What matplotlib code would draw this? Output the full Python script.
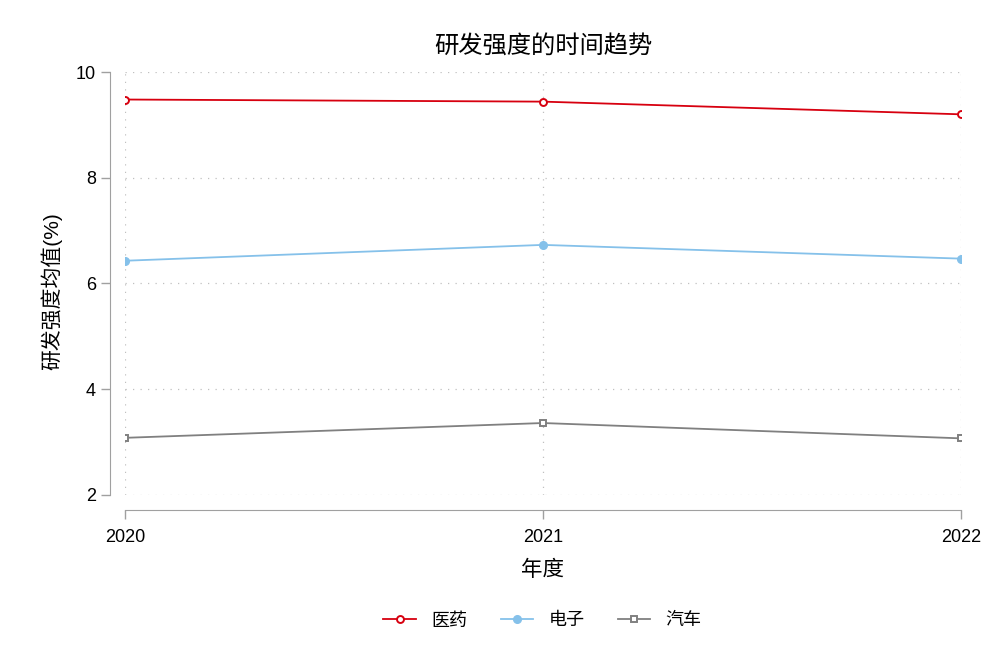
import matplotlib
matplotlib.use("Agg")
import matplotlib.pyplot as plt

plt.rcParams['font.family'] = ['Liberation Sans', 'Noto Sans CJK SC', 'DejaVu Sans']

# data
years = [2020, 2021, 2022]
yiyao = [9.48, 9.44, 9.20]    # 医药
dianzi = [6.43, 6.73, 6.47]   # 电子
qiche = [3.08, 3.36, 3.07]    # 汽车

fig = plt.figure(figsize=(10, 6.67), dpi=100)
ax = fig.add_axes([0.125, 0.258, 0.836, 0.634])

ax.plot(years, yiyao, color='#d7000f', lw=1.3, marker='o', ms=5,
        mfc='white', mec='#d7000f', mew=1.4, label='医药')
ax.plot(years, dianzi, color='#85c1ea', lw=1.3, marker='o', ms=5.5,
        mfc='#85c1ea', mec='#85c1ea', label='电子')
ax.plot(years, qiche, color='#808080', lw=1.3, marker='s', ms=5,
        mfc='white', mec='#808080', mew=1.4, label='汽车')

ax.set_xlim(2020, 2022)
ax.set_ylim(2, 10)
ax.set_xticks(years)
ax.set_yticks([2, 4, 6, 8, 10])
ax.grid(True, linestyle=(0, (1, 5)), color='#c0c0c0', lw=0.9)

for s in ['top', 'right']:
    ax.spines[s].set_visible(False)
ax.spines['left'].set_position(('outward', 11))
ax.spines['bottom'].set_position(('outward', 11))
ax.spines['left'].set_color('#a0a0a0')
ax.spines['bottom'].set_color('#a0a0a0')
ax.tick_params(axis='both', colors='#a0a0a0', labelcolor='black',
               labelsize=13, length=6.5, width=1)
ax.tick_params(axis='x', pad=7)

ax.set_title('研发强度的时间趋势', fontsize=17.5, pad=14)
ax.set_xlabel('年度', fontsize=15.5, labelpad=10)
ax.set_ylabel('研发强度均值(%)', fontsize=15)
ax.yaxis.set_label_coords(-0.0755, 0.482)

fig.legend(loc='center', bbox_to_anchor=(0.5425, 0.069), ncol=3,
           frameon=False, fontsize=13, handlelength=1.8, handletextpad=0.85,
           columnspacing=1.85)

fig.savefig('out.png', dpi=100)
